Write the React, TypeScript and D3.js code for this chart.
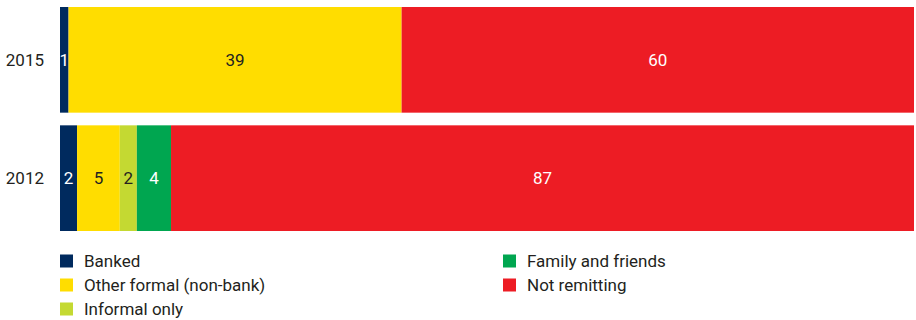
import React from "react";
import * as d3 from "d3";

const years = ["2015", "2012"];
const seriesNames = ["Banked", "Other formal (non-bank)", "Informal only", "Family and friends", "Not remitting"];
const banked = [1, 2];
const otherFormal = [39, 5];
const informalOnly = [0, 2];
const familyFriends = [0, 4];
const notRemitting = [60, 87];

const colors = ["#002a5e", "#ffdd00", "#c4d932", "#00a650", "#ed1c24"];
const labelColors = ["#ffffff", "#231f20", "#231f20", "#ffffff", "#ffffff"];

export default function App() {
  const W = 916, H = 320;
  const values = [banked, otherFormal, informalOnly, familyFriends, notRemitting];
  const rows = years.map((y, i) => {
    const o: any = { year: y };
    seriesNames.forEach((s, k) => (o[s] = values[k][i]));
    return o;
  });
  const stacked = d3.stack<any>().keys(seriesNames)(rows);
  const x = d3.scaleLinear().domain([0, 100]).range([60, 914]);
  const y = d3.scaleBand().domain(years).range([7, 231]).paddingInner(0.107).paddingOuter(0);
  const font = "'Liberation Sans Narrow', 'Roboto', 'Liberation Sans', sans-serif";
  const legendPos = [
    [60, 261], [60, 285], [60, 309], [503, 261], [503, 285],
  ];
  return (
    <svg width={W} height={H} style={{ position: "absolute", left: 0, top: 0 }} fontFamily={font}>
      {stacked.map((layer, k) =>
        layer.map((d, i) => {
          const w = x(d[1]) - x(d[0]);
          if (w <= 0) return null;
          const yy = y(years[i])!;
          return (
            <g key={`${k}-${i}`}>
              <rect x={x(d[0])} y={yy} width={w} height={y.bandwidth()} fill={colors[k]} />
              <text
                x={(x(d[0]) + x(d[1])) / 2}
                y={yy + y.bandwidth() / 2}
                dy="0.35em"
                textAnchor="middle"
                fontSize={17}
                fill={labelColors[k]}
              >
                {d[1] - d[0]}
              </text>
            </g>
          );
        })
      )}
      {years.map((yr) => (
        <text key={yr} x={44} y={y(yr)! + y.bandwidth() / 2} dy="0.35em" textAnchor="end" fontSize={17} fill="#231f20">
          {yr}
        </text>
      ))}
      {seriesNames.map((s, k) => (
        <g key={s}>
          <rect x={legendPos[k][0]} y={legendPos[k][1] - 6.5} width={13} height={13} fill={colors[k]} />
          <text x={legendPos[k][0] + 24} y={legendPos[k][1]} dy="0.35em" fontSize={17} fill="#231f20">
            {s}
          </text>
        </g>
      ))}
    </svg>
  );
}
